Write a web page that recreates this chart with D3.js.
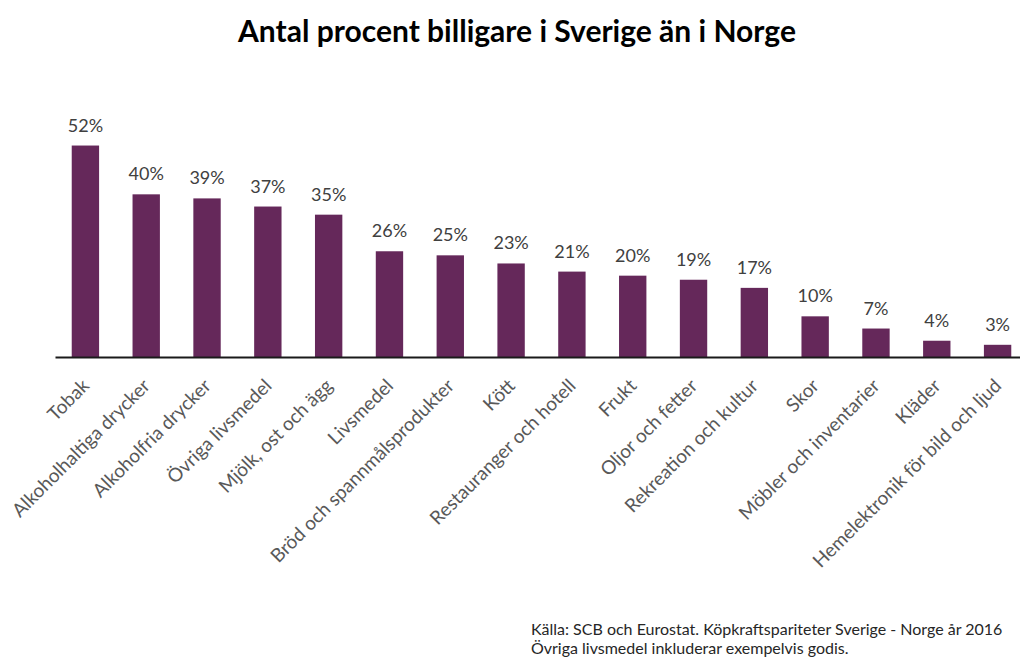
<!DOCTYPE html>
<html>
<head>
<meta charset="utf-8">
<script src="https://cdn.jsdelivr.net/npm/d3@7"></script>
<style>
  body { margin: 0; background: #fff; }
  svg { display: block; font-family: Lato, "Open Sans", sans-serif; }
</style>
</head>
<body>
<div id="chart"></div>
<script>
'use strict'

// data
let categories = [
  "Tobak", "Alkoholhaltiga drycker", "Alkoholfria drycker", "Övriga livsmedel",
  "Mjölk, ost och ägg", "Livsmedel", "Bröd och spannmålsprodukter", "Kött",
  "Restauranger och hotell", "Frukt", "Oljor och fetter", "Rekreation och kultur",
  "Skor", "Möbler och inventarier", "Kläder", "Hemelektronik för bild och ljud"
]
let values = [52, 40, 39, 37, 35, 26, 25, 23, 21, 20, 19, 17, 10, 7, 4, 3]
let titleText = "Antal procent billigare i Sverige än i Norge"
let notes = [
  "Källa: SCB och Eurostat. Köpkraftspariteter Sverige - Norge år 2016",
  "Övriga livsmedel inkluderar exempelvis godis."
]

// setup
let width = 1020
let height = 661
let barColor = "#65285a"
let baseY = 357

let x = d3.scaleBand()
  .domain(categories)
  .range([55, 1028])
  .paddingInner(0.55)
  .paddingOuter(0.275)

let y = d3.scaleLinear()
  .domain([0, 60])
  .range([baseY, 113])

let svg = d3.select("#chart").append("svg")
  .attr("width", width)
  .attr("height", height)

svg.append("text")
  .attr("x", 517)
  .attr("y", 42)
  .attr("text-anchor", "middle")
  .style("font-size", "30px")
  .style("font-weight", "bold")
  .style("fill", "#000")
  .text(titleText)

// bars
svg.selectAll(".bar")
  .data(values)
  .enter()
  .append("rect")
  .attr("class", "bar")
  .attr("x", (d, i) => x(categories[i]))
  .attr("y", d => y(d))
  .attr("width", x.bandwidth())
  .attr("height", d => baseY - y(d))
  .style("fill", barColor)

// value labels
svg.selectAll(".val")
  .data(values)
  .enter()
  .append("text")
  .attr("class", "val")
  .attr("x", (d, i) => x(categories[i]) + x.bandwidth() / 2)
  .attr("y", d => y(d) - 14)
  .attr("text-anchor", "middle")
  .style("font-size", "18px")
  .style("fill", "#404040")
  .text(d => d + "%")

// x axis
let xAxis = d3.axisBottom(x).tickSize(0).tickPadding(0)
let gx = svg.append("g")
  .attr("transform", "translate(0," + baseY + ")")
  .call(xAxis)
gx.select(".domain")
  .attr("stroke", "#1a1a1a")
  .attr("stroke-width", 2)
gx.selectAll(".tick text")
  .attr("text-anchor", "end")
  .attr("transform", "translate(5,30) rotate(-45)")
  .attr("dy", 0)
  .style("font-family", "Lato, 'Open Sans', sans-serif")
  .style("font-size", "19px")
  .style("fill", "#595959")

// footnote
svg.selectAll(".note")
  .data(notes)
  .enter()
  .append("text")
  .attr("class", "note")
  .attr("x", 531)
  .attr("y", (d, i) => 635 + i * 19)
  .style("font-size", "16px")
  .style("fill", "#262626")
  .text(d => d)
</script>
</body>
</html>
